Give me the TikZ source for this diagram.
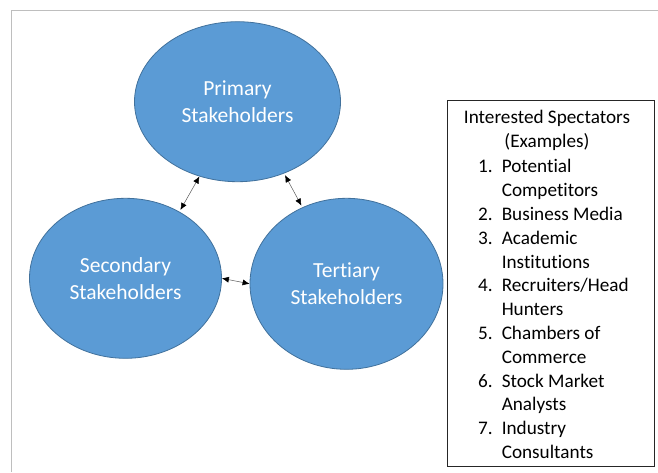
\documentclass[tikz,border=0pt]{standalone}
\usepackage{fontspec}
\setmainfont{Carlito}[Ligatures=NoCommon]
\usetikzlibrary{shapes.geometric,arrows.meta}
\definecolor{stakefill}{HTML}{5B9BD5}
\definecolor{stakeline}{HTML}{41719C}
\definecolor{framegray}{RGB}{190,190,190}
\definecolor{linkgray}{RGB}{90,90,90}

\begin{document}
\begin{tikzpicture}[x=1pt,y=-1pt,
  stake/.style={ellipse, draw=stakeline, line width=0.8pt, fill=stakefill,
    text=white, inner sep=0pt, align=center,
    font=\fontsize{21.5}{27}\selectfont},
  link/.style={draw=linkgray, line width=0.5pt, {Latex[length=7pt,width=6pt,color=black]}-{Latex[length=7pt,width=6pt,color=black]}},
  listbox/.style={draw=black!85, line width=0.9pt, inner sep=0pt},
  listtext/.style={inner sep=0pt, font=\fontsize{19.2}{23.8}\selectfont}]
\useasboundingbox (0,0) rectangle (658,472);

% page frame
\draw[framegray, line width=1pt] (11.5,472) -- (11.5,10.5) -- (658,10.5);

% stakeholder groups
\node[stake, minimum width=206pt, minimum height=160pt] (prim) at (237.5,101.7)
  {Primary\\Stakeholders};
\node[stake, minimum width=192pt, minimum height=160pt] (sec) at (125.5,278.3)
  {Secondary\\Stakeholders};
\node[stake, minimum width=193pt, minimum height=171pt] (ter) at (346.5,283.8)
  {Tertiary\\Stakeholders};

% two-way links
\draw[link, shorten >=2pt] (prim.243) -- (sec.51);
\draw[link, shorten <=2pt, shorten >=2pt] (prim.303) -- (ter.120);
\draw[link] (sec.0) -- (ter.180);

% interested spectators panel
\node[listbox, minimum width=207pt, minimum height=366pt] (spect) at (550.5,283) {};
\node[listtext, align=center, anchor=north] (specthead) at (547,110)
  {Interested Spectators\\(Examples)};
\node[listtext, anchor=north west] (specitems) at (478,156) {%
  \begin{tabular}[t]{@{}l@{\hspace{9pt}}l@{}}
  1. & Potential\\
     & Competitors\\
  2. & Business Media\\
  3. & Academic\\
     & Institutions\\
  4. & Recruiters/Head\\
     & Hunters\\
  5. & Chambers of\\
     & Commerce\\
  6. & Stock Market\\
     & Analysts\\
  7. & Industry\\
     & Consultants
  \end{tabular}};
\end{tikzpicture}
\end{document}
